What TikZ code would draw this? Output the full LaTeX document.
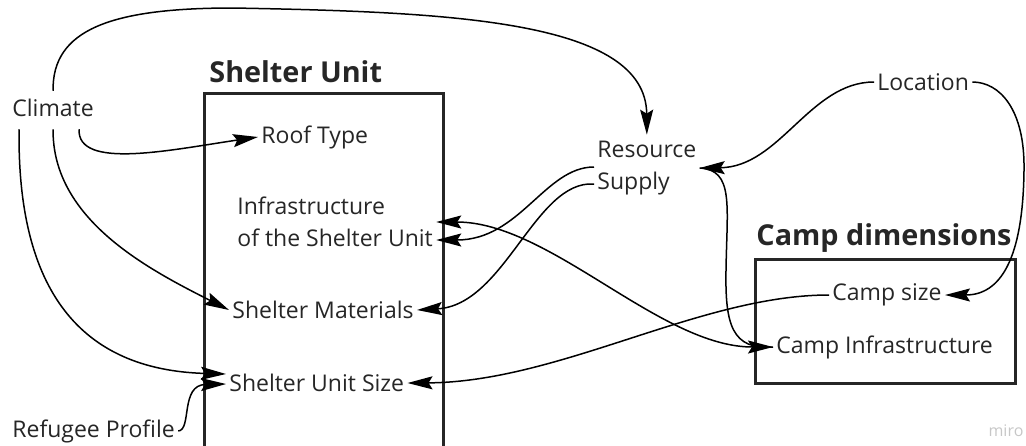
\documentclass[tikz,border=0pt]{standalone}
\usepackage{fontspec}
\setmainfont{Open Sans}
\usetikzlibrary{calc,arrows.meta}

\begin{document}
\begin{tikzpicture}[x=0.5pt,y=-0.5pt,>={Stealth[length=12.5pt,width=6.5pt,inset=2pt]},
  lbl/.style={inner xsep=1.5pt,inner ysep=3pt,anchor=west,align=left,font=\fontsize{11.5}{16}\selectfont,text=black!85},
  hdr/.style={inner sep=0pt,anchor=west,font=\fontsize{14.4}{16}\selectfont\bfseries,text=black!85},
  box/.style={draw=black!85,line width=1.5pt},
  link/.style={draw=black,line width=0.75pt}]
\useasboundingbox (0,0) rectangle (1026,445);
\draw[box] (204,93) rectangle (443,470);
\draw[box] (755,259) rectangle (1015,383);
\node[hdr] (suhdr) at (209,72) {Shelter Unit};
\node[hdr] (cdhdr) at (756,238) {Camp dimensions};
\node[lbl] (climate) at (9,108) {Climate};
\node[lbl] (roof) at (258,137) {Roof Type};
\node[lbl] (infra) at (234,222) {Infrastructure\\of the Shelter Unit};
\node[lbl] (materials) at (229,310) {Shelter Materials};
\node[lbl] (unitsize) at (226,383) {Shelter Unit Size};
\node[lbl] (refugee) at (9,431) {Refugee Profile};
\node[lbl] (resource) at (594,168) {Resource\\Supply};
\node[lbl] (location) at (874,82) {Location};
\node[lbl] (campsize) at (829,295) {Camp size};
\node[lbl] (campinfra) at (773,347) {Camp Infrastructure};
\node[inner sep=0pt,font=\fontsize{8}{8}\selectfont,text=black!22] (wm) at (1006,431) {miro};
\draw[link,->] ($(climate.north)+(0,-2)$) .. controls (52,30) and (110,8) .. (233,8)
  .. controls (450,12) and (646,20) .. (resource.north);
\draw[link,->] ($(climate.south)+(26,6)$) .. controls (77,170) and (170,150) .. (roof.west);
\draw[link,->] ($(climate.south)+(0,6)$) .. controls (52,220) and (150,270) .. (materials.west);
\draw[link,->] ($(climate.south)+(-34,6)$) .. controls (17,290) and (80,370) .. ($(unitsize.west)+(0,-9)$);
\draw[link,->] (refugee.east) .. controls (192,430) and (180,385) .. ($(unitsize.west)+(0,1)$);
\draw[link,->] ($(resource.west)+(0,-1)$) .. controls (545,167) and (520,240) .. ($(infra.east)+(0,18)$);
\draw[link,->] ($(resource.west)+(0,16)$) .. controls (535,180) and (505,305) .. (materials.east);
\draw[link,<->] (infra.east) .. controls (550,222) and (660,347) .. (campinfra.west);
\draw[link,->] (campsize.west) .. controls (700,295) and (560,382) .. (unitsize.east);
\draw[link,->] (location.west) .. controls (810,82) and (780,167) .. (resource.east);
\draw[link,->] (location.east) .. controls (1000,82) and (1025,110) .. (1024,170)
  .. controls (1023,260) and (1000,295) .. (campsize.east);
\draw[link] (campinfra.west) .. controls (732,350) and (725,325) .. (726,270)
  .. controls (727,205) and (734,170) .. (resource.east);
\end{tikzpicture}
\end{document}
